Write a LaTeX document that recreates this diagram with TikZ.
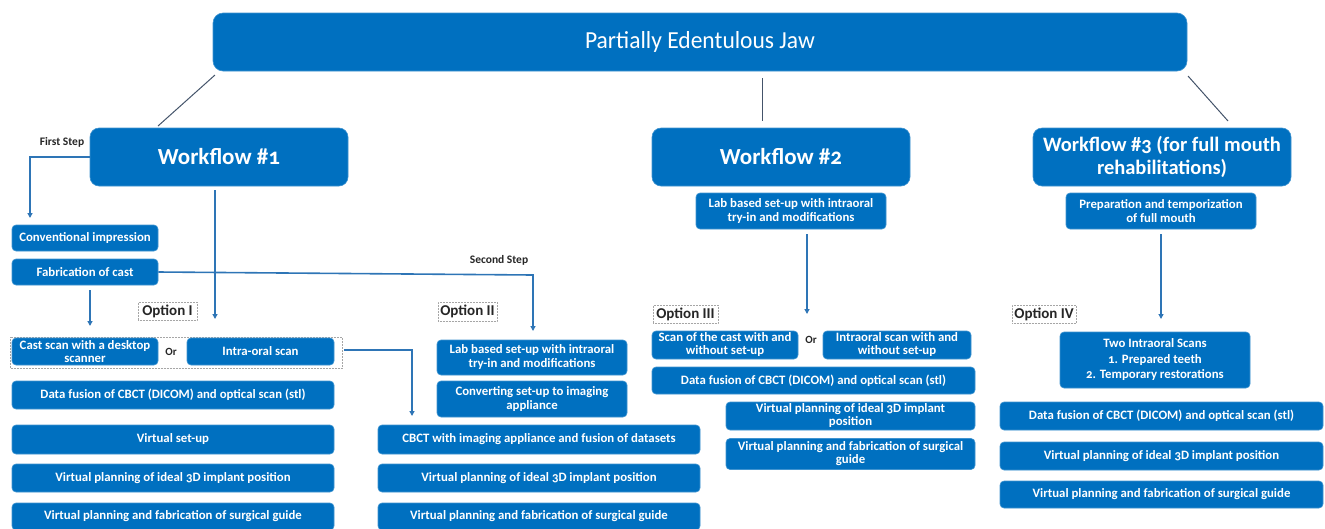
\documentclass[tikz,border=0pt]{standalone}
\usepackage{fontspec}
\setmainfont{Carlito}[Numbers=OldStyle]
\usetikzlibrary{arrows.meta}
\definecolor{boxblue}{HTML}{0070C0}
\definecolor{edgeblue}{HTML}{2E75B6}
\definecolor{slate}{HTML}{44546A}
\definecolor{labelgray}{HTML}{262626}
\begin{document}
\begin{tikzpicture}[x=1pt,y=-1pt,
  box/.style={rectangle, rounded corners=4pt, fill=boxblue, draw=boxblue!75!white,
    line width=0.6pt, text=white, align=center, inner sep=1pt,
    font=\bfseries\fontsize{12.8}{14}\selectfont},
  tightbox/.style={box, font=\bfseries\fontsize{12.8}{13}\selectfont},
  bigbox/.style={box, rounded corners=9pt, font=\bfseries\fontsize{23}{26}\selectfont},
  optlabel/.style={rectangle, draw=gray!70, densely dotted, line width=0.5pt,
    text=labelgray, inner sep=1pt, font=\bfseries\fontsize{15}{17}\selectfont},
  steplabel/.style={text=labelgray, inner sep=0pt, font=\bfseries\fontsize{11.5}{13}\selectfont},
  orlabel/.style={text=labelgray, inner sep=0pt, font=\bfseries\fontsize{11}{12}\selectfont},
  link/.style={draw=edgeblue, line width=1.6pt},
  arr/.style={link, -{Triangle[length=5pt,width=5pt]}},
  branch/.style={draw=slate, line width=1pt}]
\useasboundingbox (0,0) rectangle (1325,528);

% root
\node[box, rounded corners=10pt, minimum width=974, minimum height=58,
  font=\fontsize{24.5}{28}\selectfont] (root) at (700,42) {\scalebox{0.96}[1]{Partially Edentulous Jaw}};

% workflow headers
\node[bigbox, minimum width=258, minimum height=58] (wf1) at (219,157) {Workflow \#1};
\node[bigbox, minimum width=258, minimum height=58] (wf2) at (781,157) {Workflow \#2};
\node[bigbox, minimum width=258, minimum height=58, font=\bfseries\fontsize{20.5}{23}\selectfont] (wf3) at (1162,157) {Workflow \#3 (for full mouth\\rehabilitations)};

% branches from the root
\coordinate (b1a) at (215,75);  \coordinate (b1b) at (158,126);
\coordinate (b2a) at (762,78);  \coordinate (b2b) at (762,121);
\coordinate (b3a) at (1188,76); \coordinate (b3b) at (1228,121);
\draw[branch] (b1a) -- (b1b);
\draw[branch] (b2a) -- (b2b);
\draw[branch] (b3a) -- (b3b);

% workflow 1, first step
\node[box, minimum width=146, minimum height=26] (conv) at (85,238) {Conventional impression};
\node[box, minimum width=146, minimum height=26] (fab) at (85,272) {Fabrication of cast};
\node[steplabel] (first) at (62,142) {First Step};
\coordinate (c1) at (30,218);
\draw[arr] (wf1.west) -| (c1);

% option I
\node[optlabel, minimum width=59, minimum height=18] (opt1) at (167.5,311) {Option I};
\draw[gray!70, densely dotted, line width=0.5pt] (10,337) rectangle (342,368);
\node[tightbox, minimum width=146, minimum height=27] (cast) at (85,351.5) {Cast scan with a desktop\\scanner};
\node[orlabel] (or1) at (171,352) {Or};
\node[box, minimum width=147, minimum height=27] (intra) at (260.5,351.5) {Intra-oral scan};
\node[box, minimum width=322, minimum height=28] (df1) at (173,395) {Data fusion of CBCT (DICOM) and optical scan (stl)};
\node[box, minimum width=322, minimum height=29] (vs1) at (173,439.5) {Virtual set-up};
\node[box, minimum width=322, minimum height=28] (vp1) at (173,478) {Virtual planning of ideal 3D implant position};
\node[box, minimum width=322, minimum height=27] (vf1) at (173,516.5) {Virtual planning and fabrication of surgical guide};

\coordinate (c2a) at (90,290);  \coordinate (c2b) at (90,326);
\draw[arr] (c2a) -- (c2b);
\coordinate (c3a) at (215,190); \coordinate (c3b) at (215,319);
\draw[arr] (c3a) -- (c3b);

% second step
\node[steplabel] (second) at (499,260) {Second Step};
\coordinate (c4) at (533,275); \coordinate (c5) at (533,331);
\draw[arr] (fab.east) -- (c4) -- (c5);
\coordinate (c6a) at (344,350); \coordinate (c6b) at (412,416);
\draw[arr] (c6a) -| (c6b);

% option II
\node[optlabel, minimum width=59, minimum height=19] (opt2) at (467.5,311.5) {Option II};
\node[box, minimum width=190, minimum height=35] (lab2) at (532,357.5) {Lab based set-up with intraoral\\try-in and modifications};
\node[box, minimum width=190, minimum height=36] (conv2) at (532,399) {Converting set-up to imaging\\appliance};
\node[box, minimum width=322, minimum height=29] (cbct) at (539,439.5) {CBCT with imaging appliance and fusion of datasets};
\node[box, minimum width=322, minimum height=28] (vp2) at (539,478) {Virtual planning of ideal 3D implant position};
\node[box, minimum width=322, minimum height=27] (vf2) at (539,516.5) {Virtual planning and fabrication of surgical guide};

% workflow 2
\node[box, minimum width=190, minimum height=36] (lab3) at (791,211) {Lab based set-up with intraoral\\try-in and modifications};
\coordinate (c7a) at (807,234); \coordinate (c7b) at (807,314);
\draw[arr] (c7a) -- (c7b);
\node[optlabel, minimum width=65, minimum height=18] (opt3) at (685.5,314) {Option III};
\node[tightbox, minimum width=146, minimum height=28] (scan3) at (725,345) {Scan of the cast with and\\without set-up};
\node[orlabel] (or2) at (811,340) {Or};
\node[tightbox, minimum width=148, minimum height=28] (io3) at (897,345) {Intraoral scan with and\\without set-up};
\node[box, minimum width=323, minimum height=27] (df3) at (813.5,380.5) {Data fusion of CBCT (DICOM) and optical scan (stl)};
\node[tightbox, minimum width=249, minimum height=28] (vp3) at (850.5,416) {Virtual planning of ideal 3D implant\\position};
\node[tightbox, minimum width=249, minimum height=31] (vf3) at (850.5,454) {Virtual planning and fabrication of surgical\\guide};

% workflow 3
\node[box, minimum width=190, minimum height=36] (prep) at (1161,211) {Preparation and temporization\\of full mouth};
\coordinate (c8a) at (1161,234); \coordinate (c8b) at (1161,319);
\draw[arr] (c8a) -- (c8b);
\node[optlabel, minimum width=64, minimum height=18] (opt4) at (1044,314) {Option IV};
\node[box, minimum width=190, minimum height=56, font=\bfseries\fontsize{12.8}{15.5}\selectfont] (two) at (1155,360) {Two Intraoral Scans\\1. Prepared teeth\\2. Temporary restorations};
\node[box, minimum width=323, minimum height=28] (df4) at (1161.5,416) {Data fusion of CBCT (DICOM) and optical scan (stl)};
\node[box, minimum width=323, minimum height=28] (vp4) at (1161.5,456) {Virtual planning of ideal 3D implant position};
\node[box, minimum width=323, minimum height=27] (vf4) at (1161.5,494.5) {Virtual planning and fabrication of surgical guide};
\end{tikzpicture}
\end{document}
